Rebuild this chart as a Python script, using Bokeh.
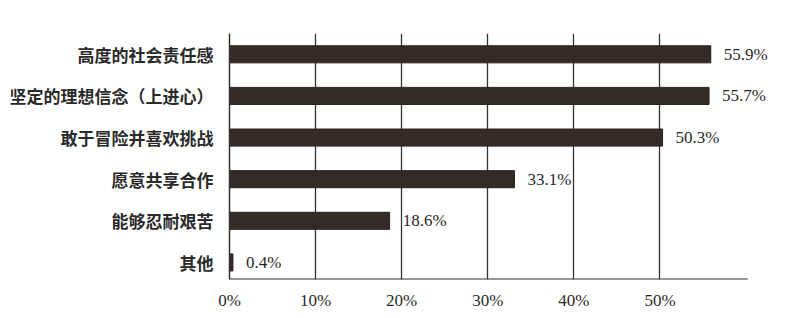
from bokeh.plotting import figure
from bokeh.models import ColumnDataSource, Range1d, FixedTicker, LabelSet
from bokeh.core.properties import value
from bokeh.embed import file_html
from bokeh.resources import INLINE

categories = ["高度的社会责任感", "坚定的理想信念（上进心）", "敢于冒险并喜欢挑战",
              "愿意共享合作", "能够忍耐艰苦", "其他"]
values = [55.9, 55.7, 50.3, 33.1, 18.6, 0.4]
x_ticks = [0, 10, 20, 30, 40, 50]
x_tick_labels = ["0%", "10%", "20%", "30%", "40%", "50%"]
axis_end = 60.2

n = len(categories)
ypos = [n - 1 - i for i in range(n)]
y_bottom = -0.41
src = ColumnDataSource(dict(y=ypos, v=values,
                            lab=[f"{v:.1f}%" for v in values]))

p = figure(width=788, height=318, output_backend="svg", toolbar_location=None,
           x_range=Range1d(0, 64), y_range=Range1d(y_bottom, n - 0.5),
           min_border_left=229, min_border_right=8,
           min_border_top=33, min_border_bottom=39)
p.outline_line_color = None
p.background_fill_color = "white"
p.border_fill_color = "white"

p.hbar(y="y", right="v", left=0, height=0.41, source=src,
       fill_color="#342b27", line_color="#2a2220", line_width=1)

labels = LabelSet(x="v", y="y", text="lab", source=src, x_offset=13,
                  text_baseline="middle", text_font=value("Liberation Serif"),
                  text_font_size="17px", text_color="#2a2a2a")
p.add_layout(labels)

# bottom axis line drawn only up to axis_end
p.segment(x0=[0], x1=[axis_end], y0=[y_bottom], y1=[y_bottom],
          line_color="#333333", line_width=2)

# x axis
p.xaxis.ticker = FixedTicker(ticks=x_ticks)
p.xaxis.major_label_overrides = {t: l for t, l in zip(x_ticks, x_tick_labels)}
p.xaxis.major_tick_line_color = None
p.xaxis.minor_tick_line_color = None
p.xaxis.axis_line_color = None
p.xaxis.major_label_text_font = "Liberation Serif"
p.xaxis.major_label_text_font_size = "17px"
p.xaxis.major_label_text_color = "#2a2a2a"
p.xaxis.major_label_standoff = 5

# y axis
p.yaxis.ticker = FixedTicker(ticks=ypos)
p.yaxis.major_label_overrides = {y: c for y, c in zip(ypos, categories)}
p.yaxis.major_tick_line_color = None
p.yaxis.minor_tick_line_color = None
p.yaxis.axis_line_color = "#333333"
p.yaxis.axis_line_width = 1.5
p.yaxis.major_label_text_font = "Noto Sans CJK SC"
p.yaxis.major_label_text_font_style = "bold"
p.yaxis.major_label_text_font_size = "17px"
p.yaxis.major_label_text_color = "#2a2a2a"
p.yaxis.major_label_standoff = 10

p.ygrid.grid_line_color = None
p.xgrid.ticker = FixedTicker(ticks=x_ticks[1:])
p.xgrid.grid_line_color = "#333333"
p.xgrid.grid_line_width = 1.3
p.xgrid.grid_line_alpha = 1.0

open("out.html", "w").write(file_html(p, INLINE))
